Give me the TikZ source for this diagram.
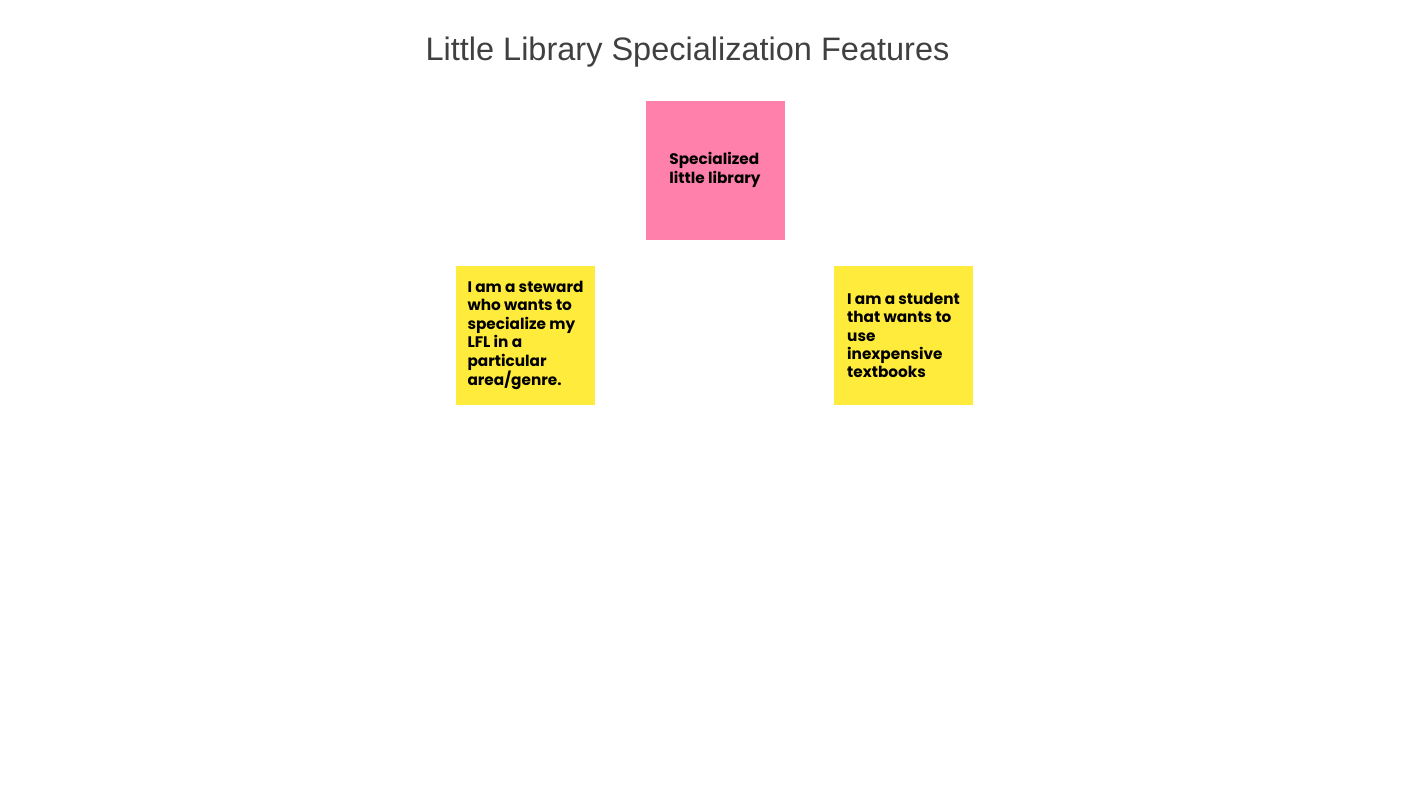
\documentclass[tikz,border=0pt]{standalone}
\usepackage{fontspec}
\setmainfont{Liberation Sans}
\newfontfamily\notefont{Poppins}
\usetikzlibrary{positioning}
\definecolor{stickyPink}{RGB}{255,128,171}
\definecolor{stickyYellow}{RGB}{255,235,59}
\definecolor{titleGrey}{RGB}{64,64,64}

\begin{document}
\begin{tikzpicture}[
    x=1pt, y=-1pt,
    sticky/.style={rectangle, minimum width=139pt, minimum height=139pt,
                   inner sep=0pt, align=left, text=black,
                   font=\notefont\bfseries\fontsize{15.3}{18.4}\selectfont}
  ]
  \useasboundingbox (0,0) rectangle (1422,800);
  \node[font=\fontsize{32.5}{38}\selectfont, text=titleGrey, anchor=base] (title) at (687.5,61) {Little Library Specialization Features};
  \node[sticky, fill=stickyPink] (spec) at (715,170) {Specialized\\little library};
  \node[sticky, fill=stickyYellow] (steward) at (525.5,335.5) {I am a steward\\who wants to\\specialize my\\LFL in a\\particular\\area/genre.};
  \node[sticky, fill=stickyYellow] (student) at (903.5,335.5) {I am a student\\that wants to\\use\\inexpensive\\textbooks};
\end{tikzpicture}
\end{document}
